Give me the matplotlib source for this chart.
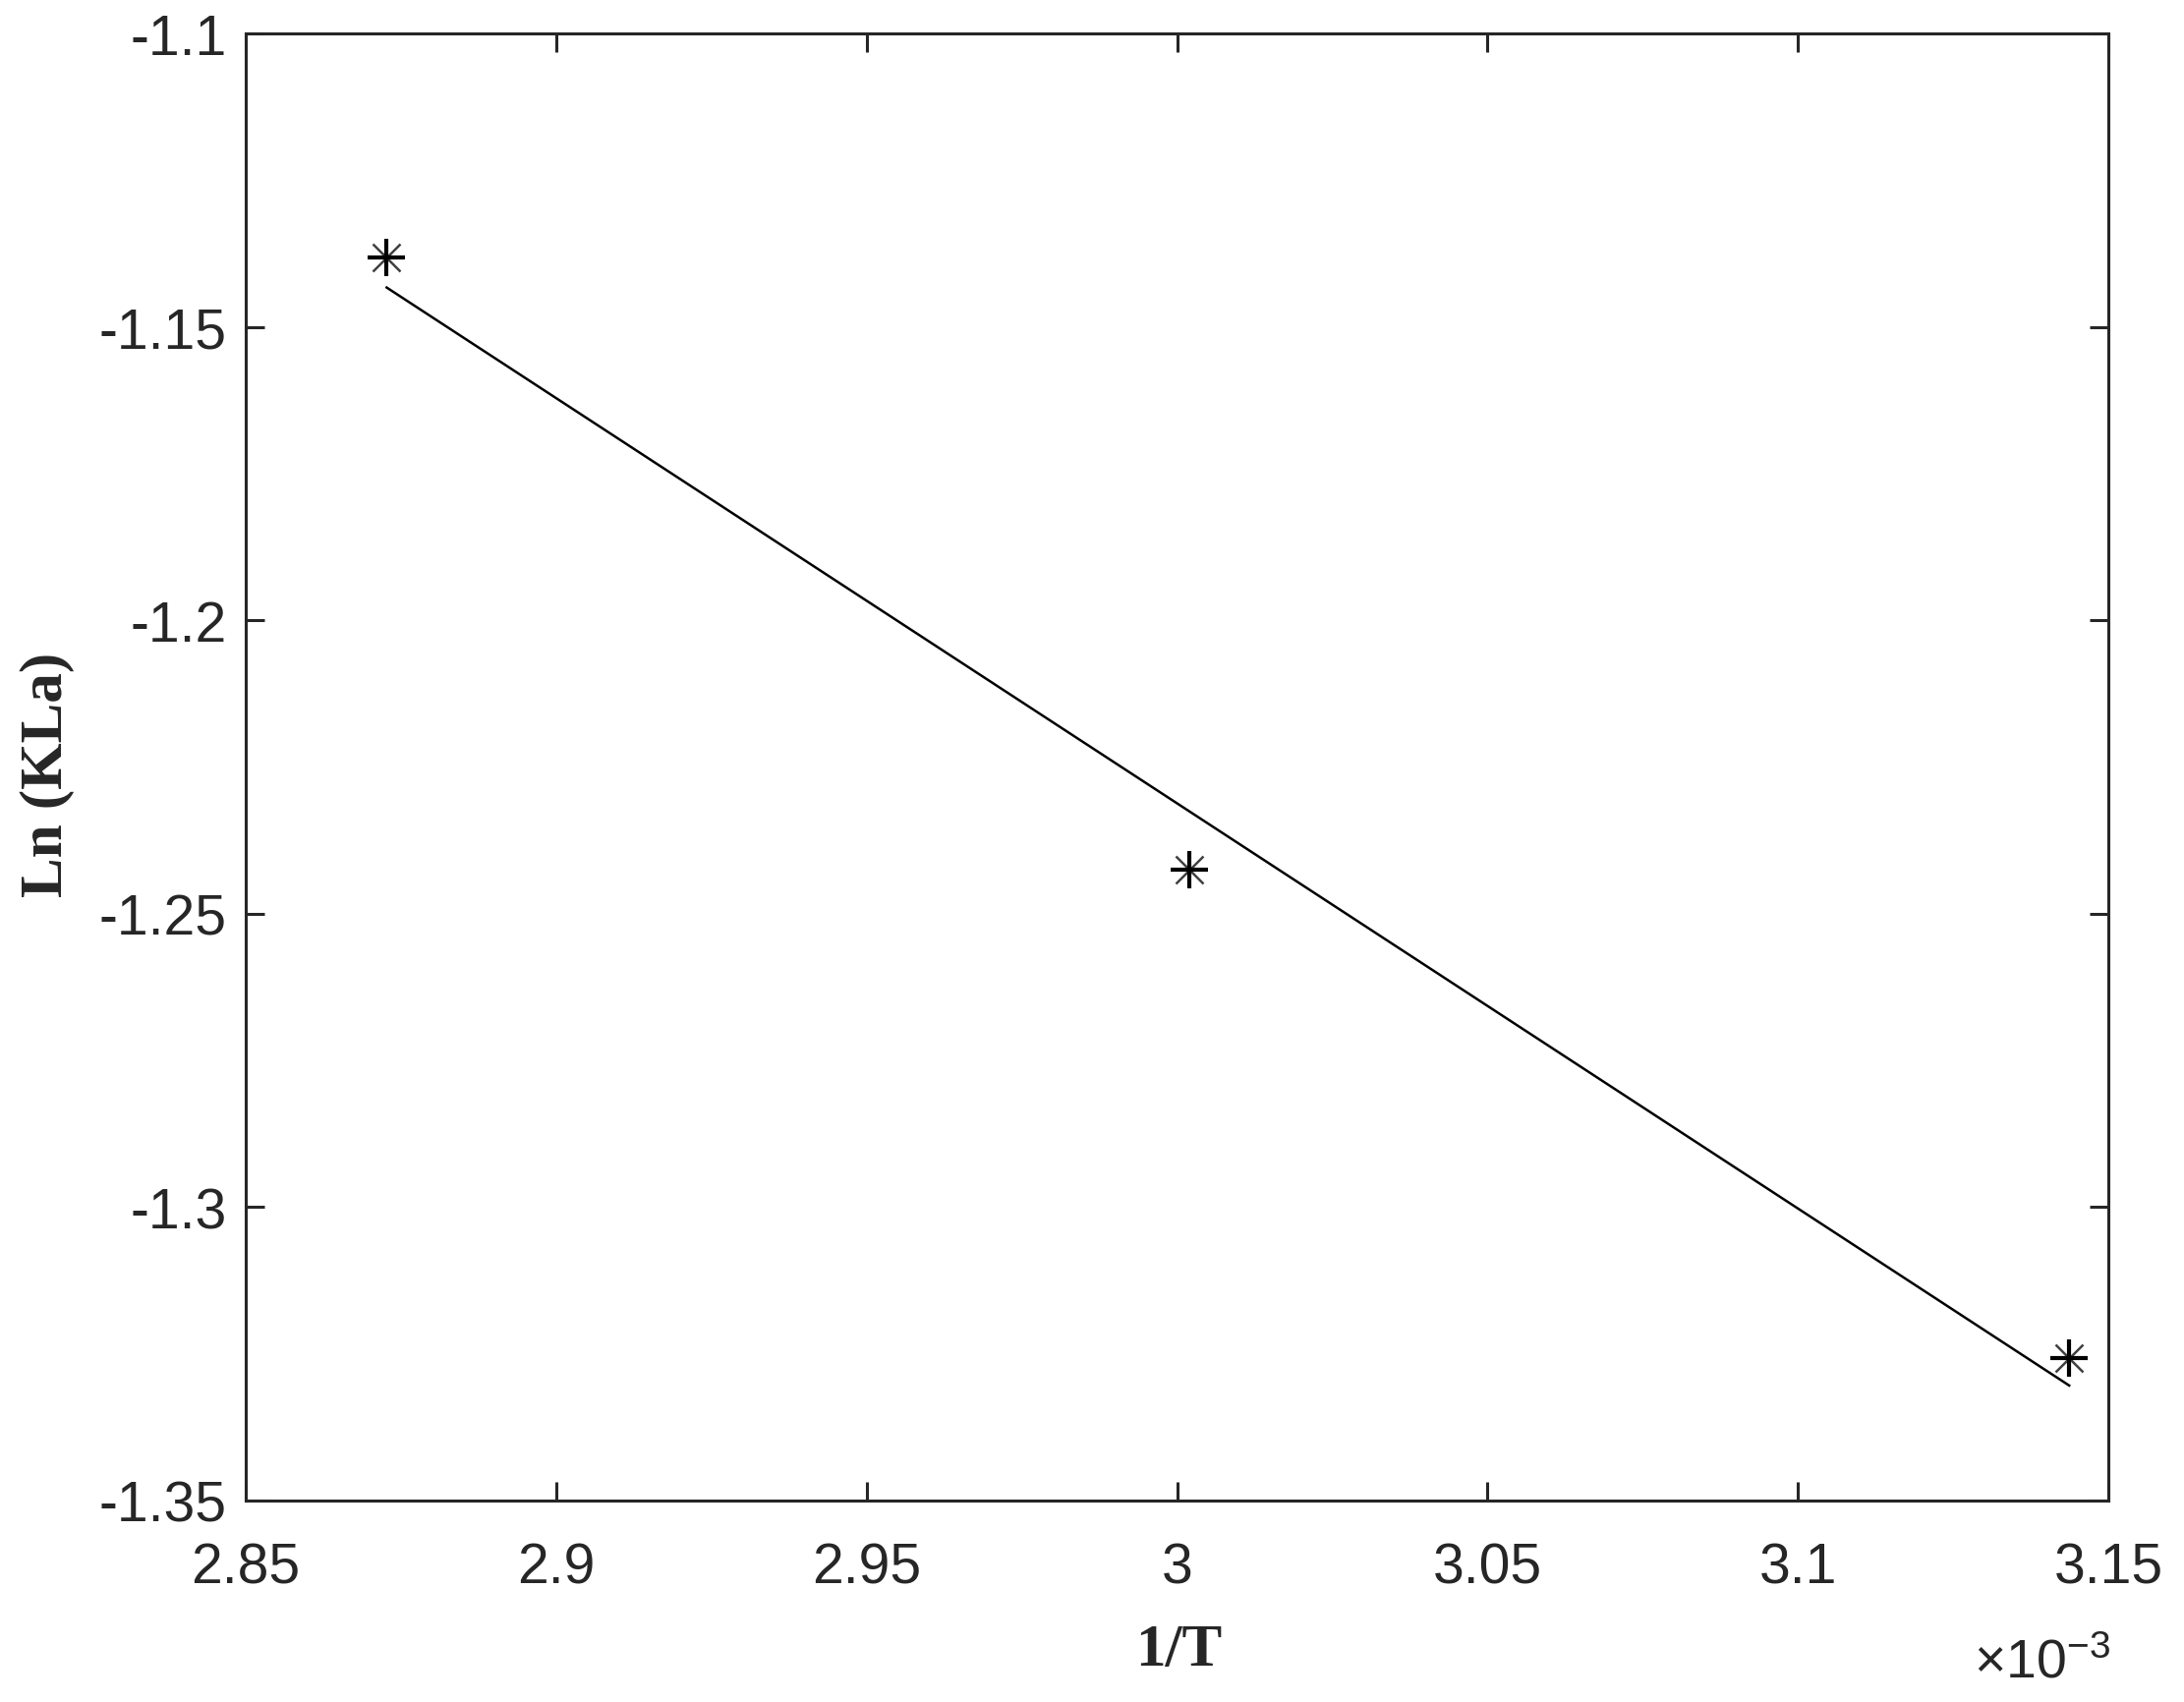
import matplotlib
matplotlib.use("Agg")
import matplotlib.pyplot as plt
from matplotlib.ticker import FuncFormatter

# Data (x in units of 1e-3 K^-1)
inv_T = [2.8727, 3.0020, 3.1437]
ln_kla = [-1.1381, -1.2425, -1.3257]
# Fitted line end points
fit_x = [2.8727, 3.1437]
fit_y = [-1.1433, -1.3304]

x_ticks = [2.85, 2.9, 2.95, 3.0, 3.05, 3.1, 3.15]
y_ticks = [-1.35, -1.3, -1.25, -1.2, -1.15, -1.1]

plt.rcParams['axes.unicode_minus'] = False
plt.rcParams['mathtext.fontset'] = 'custom'
plt.rcParams['mathtext.rm'] = 'Liberation Sans'
plt.rcParams['mathtext.it'] = 'Liberation Sans'

W, H = 2222, 1733
fig = plt.figure(figsize=(W / 100, H / 100), dpi=100)
ax = fig.add_axes([250 / W, 1 - 1528 / H, (2145 - 250) / W, (1528 - 35) / H])

dark = (0.15, 0.15, 0.15)

ax.plot(fit_x, fit_y, color='black', lw=1.8)
ax.plot(inv_T, ln_kla, linestyle='none', marker='+', ms=28, mew=3.0, color='black')
ax.plot(inv_T, ln_kla, linestyle='none', marker='x', ms=20, mew=1.8, color='black', alpha=0.75)

ax.set_xlim(2.85, 3.15)
ax.set_ylim(-1.35, -1.1)
ax.set_xticks(x_ticks)
ax.set_yticks(y_ticks)
fmt = FuncFormatter(lambda v, p: '%g' % round(v, 4))
ax.xaxis.set_major_formatter(fmt)
ax.yaxis.set_major_formatter(fmt)

for s in ax.spines.values():
    s.set_linewidth(2.2)
    s.set_color(dark)

ax.tick_params(axis='both', which='major', direction='in', length=14, width=2.2,
               color=dark, labelcolor=dark, labelsize=41,
               top=True, right=True)
ax.tick_params(axis='x', pad=30)
ax.tick_params(axis='y', pad=14)
for lab in ax.get_xticklabels() + ax.get_yticklabels():
    lab.set_fontfamily('Liberation Sans')

fig.text(1199 / W, 1 - 1695 / H, '1/T', family='Liberation Serif', weight='bold',
         fontsize=44, ha='center', va='baseline', color=dark)
fig.text(63 / W, 1 - 788 / H, 'Ln (KLa)', family='Liberation Serif', weight='bold',
         fontsize=44, ha='center', va='baseline', rotation=90, rotation_mode='anchor',
         color=dark)
fig.text(2147 / W, 1 - 1708 / H, r'$\times10^{-3}$', fontsize=40, ha='right',
         va='baseline', color=dark)

fig.savefig('out.png', dpi=100, facecolor='white')
